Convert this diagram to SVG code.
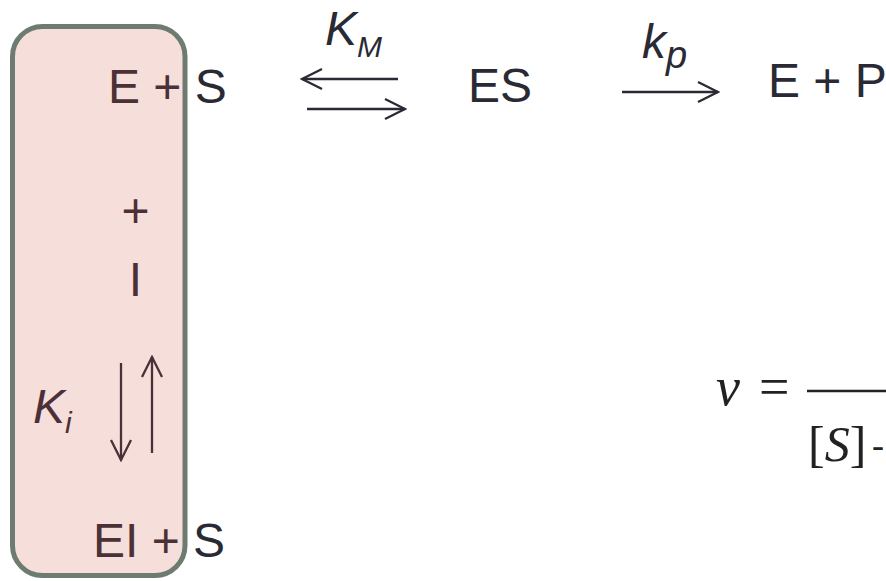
<svg xmlns="http://www.w3.org/2000/svg" width="886" height="581" viewBox="0 0 886 581">
  <style>
    .sp { font-family: "Liberation Sans", Arial, sans-serif; font-size: 48px; }
    .out { fill: #2a2a35; }
    .in { fill: #4b3036; }
    .it { font-style: italic; }
    .ln-out { stroke: #2a2a35; stroke-width: 2.3; fill: none; }
    .ln-in { stroke: #4b3036; stroke-width: 2.3; fill: none; }
    .math { font-family: "Liberation Serif", "Times New Roman", serif; font-size: 50px; fill: #222222; }
  </style>
  <defs>
    <marker id="head-out" markerUnits="userSpaceOnUse" markerWidth="24" markerHeight="24" viewBox="-22 -12 24 24" refX="0" refY="0" orient="auto">
      <path d="M-20,-10 L0,0 L-20,10" fill="none" stroke="#2a2a35" stroke-width="2.3"/>
    </marker>
    <marker id="head-in" markerUnits="userSpaceOnUse" markerWidth="24" markerHeight="24" viewBox="-22 -12 24 24" refX="0" refY="0" orient="auto">
      <path d="M-20,-10 L0,0 L-20,10" fill="none" stroke="#4b3036" stroke-width="2.3"/>
    </marker>
  </defs>

  <!-- inhibitor branch: shaded panel -->
  <g id="inhibition-panel">
    <rect x="12.5" y="26.5" width="172.5" height="549" rx="30" ry="30" fill="#f6dedb" stroke="#6d7b71" stroke-width="5"/>
  </g>

  <!-- species -->
  <g id="node-e-s">
    <text class="sp" x="108" y="103"><tspan class="in">E +</tspan><tspan class="out"> S</tspan></text>
  </g>
  <g id="node-plus">
    <text class="sp in" x="135.5" y="227" text-anchor="middle">+</text>
  </g>
  <g id="node-i">
    <text class="sp in" x="135.5" y="296" text-anchor="middle">I</text>
  </g>
  <g id="node-ei-s">
    <text class="sp" x="93" y="557"><tspan class="in">EI +</tspan><tspan class="out"> S</tspan></text>
  </g>
  <g id="node-es">
    <text class="sp out" x="468" y="102">ES</text>
  </g>
  <g id="node-e-p">
    <text class="sp out" x="768" y="97">E + P</text>
  </g>

  <!-- reaction arrows -->
  <g id="connectors">
    <line class="ln-out" x1="398" y1="79" x2="302" y2="79" marker-end="url(#head-out)"/>
    <line class="ln-out" x1="307" y1="109" x2="405" y2="109" marker-end="url(#head-out)"/>
    <line class="ln-out" x1="622" y1="92" x2="718" y2="92" marker-end="url(#head-out)"/>
    <line class="ln-in" x1="121" y1="363" x2="121" y2="460" marker-end="url(#head-in)"/>
    <line class="ln-in" x1="152" y1="453" x2="152" y2="357" marker-end="url(#head-in)"/>
  </g>

  <!-- rate constants -->
  <g id="label-km">
    <text class="sp out it" x="325" y="45" font-size="45">K<tspan font-size="30" dy="12">M</tspan></text>
  </g>
  <g id="label-kp">
    <text class="sp out it" x="642" y="58" font-size="45">k<tspan font-size="38" dy="10">p</tspan></text>
  </g>
  <g id="label-ki">
    <text class="sp in it" x="33" y="423" font-size="48">K<tspan font-size="30" dy="10">i</tspan></text>
  </g>

  <!-- rate law -->
  <g id="rate-law">
    <text class="math" x="716" y="405"><tspan font-style="italic" font-size="54">v</tspan><tspan x="759" font-size="54">=</tspan></text>
    <line x1="807" y1="391" x2="886" y2="391" stroke="#222222" stroke-width="2.5"/>
    <text class="math" x="808" y="461">[<tspan font-style="italic">S</tspan>]<tspan x="872" y="457" font-size="36">-</tspan></text>
  </g>
</svg>
